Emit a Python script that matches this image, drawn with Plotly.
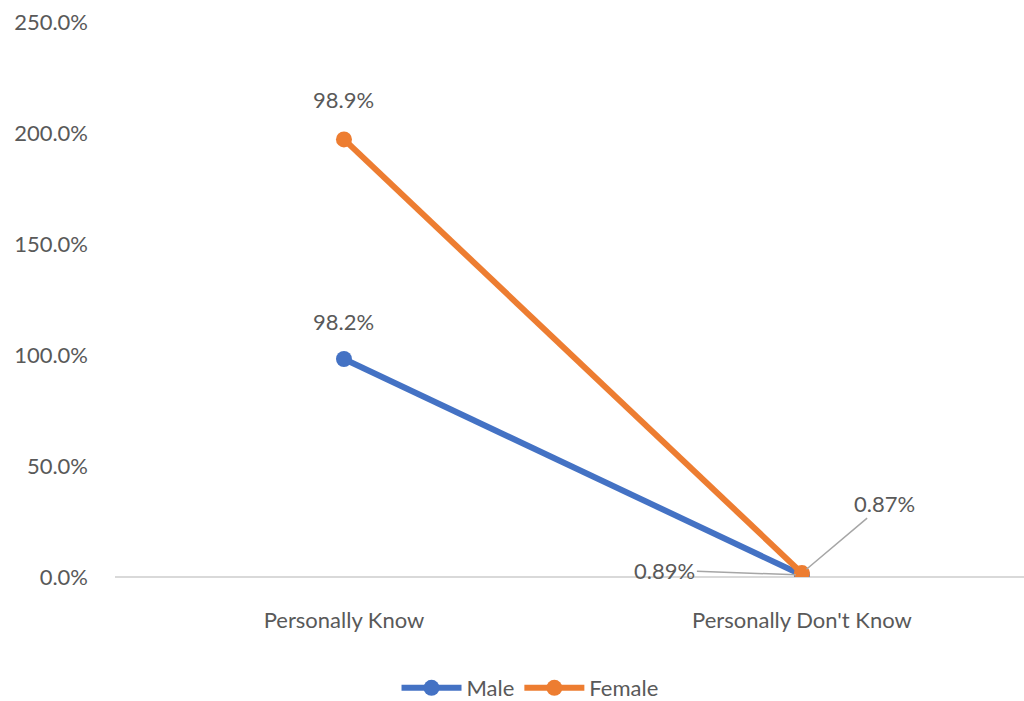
import plotly.graph_objects as go

categories = ["Personally Know", "Personally Don't Know"]
male = [98.2, 0.89]
female = [98.9, 0.87]
male_labels = ["98.2%", "0.89%"]
female_labels = ["98.9%", "0.87%"]
y_ticks = [0, 50, 100, 150, 200, 250]
y_tick_text = ["0.0%", "50.0%", "100.0%", "150.0%", "200.0%", "250.0%"]

BLUE = "#4472C4"
ORANGE = "#ED7D31"
GREY = "#595959"
FONT = "Lato"
FS = 22

female_stacked = [m + f for m, f in zip(male, female)]
xs = [0, 1]

fig = go.Figure()
fig.add_trace(go.Scatter(x=xs, y=male, mode="lines+markers", name="Male",
                         line=dict(color=BLUE, width=6),
                         marker=dict(size=16, color=BLUE)))
fig.add_trace(go.Scatter(x=xs, y=female_stacked, mode="lines+markers", name="Female",
                         line=dict(color=ORANGE, width=6),
                         marker=dict(size=16, color=ORANGE)))

ann = []
ann.append(dict(x=xs[0], y=male[0], text=male_labels[0], showarrow=False, yshift=38,
                font=dict(size=FS, color=GREY, family=FONT)))
ann.append(dict(x=xs[0], y=female_stacked[0], text=female_labels[0], showarrow=False, yshift=40,
                font=dict(size=FS, color=GREY, family=FONT)))
ann.append(dict(x=xs[1], y=male[1], text=male_labels[1], showarrow=True, arrowhead=0,
                arrowwidth=1.5, arrowcolor="#A6A6A6", ax=-137, ay=-5, standoff=6,
                font=dict(size=FS, color=GREY, family=FONT)))
ann.append(dict(x=xs[1], y=female_stacked[1], text=female_labels[1], showarrow=True, arrowhead=0,
                arrowwidth=1.5, arrowcolor="#A6A6A6", ax=83, ay=-70, standoff=6,
                font=dict(size=FS, color=GREY, family=FONT)))

fig.update_layout(
    width=1024, height=701,
    paper_bgcolor="white", plot_bgcolor="white",
    margin=dict(l=115, r=0, t=22, b=124),
    font=dict(family=FONT, color=GREY, size=FS),
    annotations=ann,
    showlegend=True,
    legend=dict(orientation="h", x=0.5176, xanchor="center", xref="container",
                y=0.0185, yanchor="middle", yref="container",
                font=dict(size=FS, color=GREY, family=FONT), itemwidth=60,
                traceorder="normal"),
    xaxis=dict(range=[-0.5, 1.485], tickmode="array", tickvals=xs, ticktext=categories,
               showgrid=False, zeroline=False, showline=False, ticks="", automargin=False,
               tickfont=dict(size=FS, color=GREY, family=FONT), ticklabelstandoff=28),
    yaxis=dict(range=[0, 250], tickmode="array", tickvals=y_ticks, ticktext=y_tick_text,
               showgrid=False, zeroline=True, zerolinecolor="#D9D9D9", zerolinewidth=2,
               showline=False, ticks="", automargin=False,
               tickfont=dict(size=FS, color=GREY, family=FONT),
               ticklabelstandoff=26),
)

fig.write_html("out.html")
